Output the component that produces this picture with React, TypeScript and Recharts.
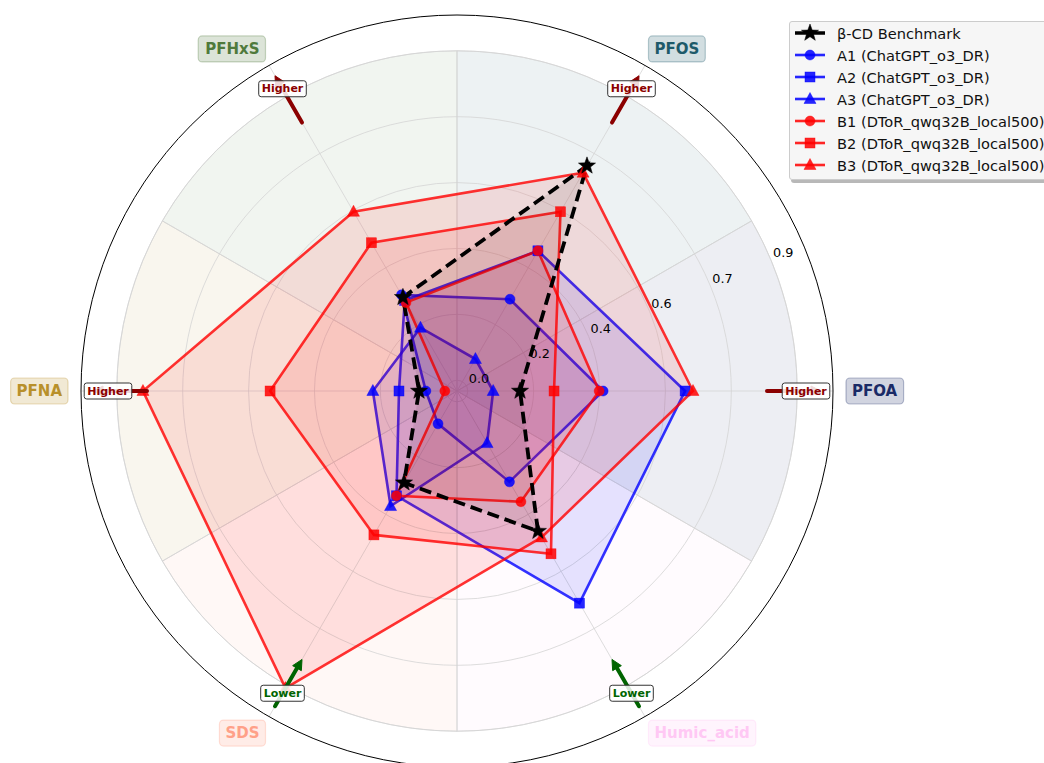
import React from 'react';
import {
  RadarChart,
  Radar,
  PolarGrid,
  PolarAngleAxis,
  PolarRadiusAxis,
  PieChart,
  Pie,
  Cell,
  Legend,
} from 'recharts';

// ---------- data ----------
const categories = ['PFOA', 'PFOS', 'PFHxS', 'PFNA', 'SDS', 'Humic_acid'];
const directions = ['Higher', 'Higher', 'Higher', 'Higher', 'Lower', 'Lower'];
const categoryColors = ['#1a2a66', '#1d5a6a', '#4f7a3c', '#b8902a', '#ffa088', '#ffc8f4'];

const benchmark = [0.146, 0.696, 0.272, 0.076, 0.266, 0.422];
const a1 = [0.378, 0.266, 0.28, 0.057, 0.076, 0.263];
const a2 = [0.607, 0.422, 0.262, 0.132, 0.308, 0.654];
const a3 = [0.071, 0.073, 0.174, 0.205, 0.341, 0.138];
const b1 = [0.367, 0.422, 0.255, 0.004, 0.308, 0.327];
const b2 = [0.241, 0.548, 0.448, 0.492, 0.434, 0.495];
const b3 = [0.629, 0.674, 0.548, 0.847, 0.928, 0.442];

const radialTicks = [0, 0.184, 0.368, 0.552, 0.736, 0.92];
const radialDomain: [number, number] = [-0.03, 1.02];

type Shape = 'circle' | 'square' | 'triangle' | 'star';
interface Series {
  key: string;
  name: string;
  values: number[];
  color: string;
  shape: Shape;
  dashed?: boolean;
}

const seriesList: Series[] = [
  { key: 'bench', name: 'β-CD Benchmark', values: benchmark, color: '#000000', shape: 'star', dashed: true },
  { key: 'A1', name: 'A1 (ChatGPT_o3_DR)', values: a1, color: '#0000ff', shape: 'circle' },
  { key: 'A2', name: 'A2 (ChatGPT_o3_DR)', values: a2, color: '#0000ff', shape: 'square' },
  { key: 'A3', name: 'A3 (ChatGPT_o3_DR)', values: a3, color: '#0000ff', shape: 'triangle' },
  { key: 'B1', name: 'B1 (DToR_qwq32B_local500)', values: b1, color: '#ff0000', shape: 'circle' },
  { key: 'B2', name: 'B2 (DToR_qwq32B_local500)', values: b2, color: '#ff0000', shape: 'square' },
  { key: 'B3', name: 'B3 (DToR_qwq32B_local500)', values: b3, color: '#ff0000', shape: 'triangle' },
];

const tableData = categories.map((c, i) => {
  const row: Record<string, any> = { axis: c };
  seriesList.forEach((s) => {
    row[s.key] = s.values[i];
  });
  return row;
});
const wedgeData = categories.map((c) => ({ name: c, value: 1 }));

// ---------- layout ----------
const W = 1044;
const H = 763;
const CX = 457;
const CY = 391;
const OUTER_R = 376;
// angle ranges for the series layer and the label layer
const SERIES_START = -60;
const SERIES_END = 300;
const LABEL_START = 60;
const LABEL_END = 420;
const FONT = 'DejaVu Sans, sans-serif';
const wedgeR =
  (OUTER_R * (radialTicks[radialTicks.length - 1] - radialDomain[0])) /
  (radialDomain[1] - radialDomain[0]);

const hexToRgba = (hex: string, a: number) => {
  const h = hex.replace('#', '');
  const r = parseInt(h.slice(0, 2), 16);
  const g = parseInt(h.slice(2, 4), 16);
  const b = parseInt(h.slice(4, 6), 16);
  return `rgba(${r},${g},${b},${a})`;
};

// approximate bold DejaVu widths (em)
const boldW: Record<string, number> = {
  P: 0.733, F: 0.683, O: 0.85, A: 0.774, S: 0.72, H: 0.837, x: 0.712, N: 0.837,
  D: 0.83, u: 0.712, m: 1.042, i: 0.343, c: 0.593, _: 0.5, a: 0.675, d: 0.716,
  L: 0.637, o: 0.687, w: 0.924, e: 0.678, r: 0.493, g: 0.716, h: 0.712,
};
const textWidth = (t: string, size: number) =>
  t.split('').reduce((s, ch) => s + (boldW[ch] ?? 0.7), 0) * size;

function MarkerShape({ shape, x, y, color, scale = 1 }: { shape: Shape; x: number; y: number; color: string; scale?: number }) {
  const fill = color === '#000000' ? '#000' : hexToRgba(color, 0.85);
  if (shape === 'circle') return <circle cx={x} cy={y} r={5 * scale} fill={fill} stroke={fill} strokeWidth={0.5} />;
  if (shape === 'square') {
    const s = 5 * scale;
    return <rect x={x - s} y={y - s} width={2 * s} height={2 * s} fill={fill} stroke={fill} strokeWidth={0.5} />;
  }
  if (shape === 'triangle') {
    const pts = [
      [x, y - 6.5 * scale],
      [x + 6 * scale, y + 4.5 * scale],
      [x - 6 * scale, y + 4.5 * scale],
    ];
    return <polygon points={pts.map((p) => p.join(',')).join(' ')} fill={fill} stroke={fill} strokeWidth={0.5} />;
  }
  const pts: string[] = [];
  for (let k = 0; k < 10; k++) {
    const rr = (k % 2 === 0 ? 9 : 3.7) * scale;
    const a = -Math.PI / 2 + (k * Math.PI) / 5;
    pts.push(`${x + rr * Math.cos(a)},${y + rr * Math.sin(a)}`);
  }
  return <polygon points={pts.join(' ')} fill="#000" stroke="#000" strokeWidth={0.5} />;
}

const makeDot = (s: Series) => (props: any) => {
  const { cx, cy, index } = props;
  return (
    <g key={`${s.key}-dot-${index}`}>
      <MarkerShape shape={s.shape} x={cx} y={cy} color={s.color} />
    </g>
  );
};

const RadiusTick = (props: any) => {
  const { x, y, payload } = props;
  return (
    <text
      x={x + 12}
      y={y - 8}
      textAnchor="middle"
      dominantBaseline="central"
      fontSize={12.8}
      fontFamily={FONT}
      fill="#000"
    >
      {Number(payload.value).toFixed(1)}
    </text>
  );
};

const AngleTick = (props: any) => {
  const { payload } = props;
  const idx = categories.indexOf(payload.value);
  if (idx < 0) return <g />;
  const ang = (payload.coordinate * Math.PI) / 180;
  const ux = Math.cos(ang);
  const uy = -Math.sin(ang);
  const pt = (r: number) => [CX + ux * r, CY + uy * r];
  const dir = directions[idx];
  const higher = dir === 'Higher';
  const arrowColor = higher ? '#8b0000' : '#006400';
  const tipR = higher ? 364 : 310;
  const tailR = higher ? 310 : 364;
  const sgn = higher ? 1 : -1;
  const [tx, ty] = pt(tailR);
  const [sx, sy] = pt(tipR - sgn * 7);
  const [hx, hy] = pt(tipR);
  const [bx, by] = pt(tipR - sgn * 10);
  const px = -uy;
  const py = ux;
  const head = [
    [hx, hy],
    [bx + px * 5, by + py * 5],
    [bx - px * 5, by - py * 5],
  ];
  const [lx, ly] = pt(349);
  const smallW = textWidth(dir, 11) + 6;

  const label = categories[idx];
  const col = categoryColors[idx];
  const [ax, ay] = pt(395);
  const tw = textWidth(label, 15);
  const pad = 6;
  let boxX: number;
  let anchor: 'start' | 'end' | 'middle';
  if (ux > 0.01) {
    anchor = 'start';
    boxX = ax - pad;
  } else if (ux < -0.01) {
    anchor = 'end';
    boxX = ax - tw - pad;
  } else {
    anchor = 'middle';
    boxX = ax - tw / 2 - pad;
  }
  return (
    <g>
      <line x1={tx} y1={ty} x2={sx} y2={sy} stroke={arrowColor} strokeWidth={4} strokeLinecap="round" />
      <polygon points={head.map((p) => p.join(',')).join(' ')} fill={arrowColor} stroke={arrowColor} strokeWidth={1} strokeLinejoin="round" />
      <rect x={lx - smallW / 2} y={ly - 8} width={smallW} height={16} rx={2.5} fill="#ffffff" fillOpacity={0.85} stroke="#333" strokeWidth={1} />
      <text x={lx} y={ly} textAnchor="middle" dominantBaseline="central" fontSize={11} fontWeight="bold" fontFamily={FONT} fill={arrowColor}>
        {dir}
      </text>
      <rect x={boxX} y={ay - 13} width={tw + 2 * pad} height={26} rx={4} fill={hexToRgba(col, 0.2)} stroke={hexToRgba(col, 0.3)} strokeWidth={1.2} />
      <text x={ax} y={ay} textAnchor={anchor} dominantBaseline="central" fontSize={15} fontWeight="bold" fontFamily={FONT} fill={col}>
        {label}
      </text>
    </g>
  );
};

const LegendContent = () => (
  <div
    style={{
      background: 'rgba(245,245,245,0.95)',
      border: '1px solid #cccccc',
      borderRadius: 3,
      boxShadow: '2px 3px 0 rgba(0,0,0,0.28)',
      padding: '0 10px 3px 5px',
      fontFamily: FONT,
      fontSize: 14.6,
      whiteSpace: 'nowrap',
      color: '#111',
    }}
  >
    {seriesList.map((s) => (
      <div key={s.key} style={{ display: 'flex', alignItems: 'center', height: 22 }}>
        <svg width={42} height={22} style={{ display: 'block', flex: 'none' }}>
          <line
            x1={0}
            x2={30}
            y1={11}
            y2={11}
            stroke={s.dashed ? '#000' : hexToRgba(s.color, 0.85)}
            strokeWidth={s.dashed ? 3.5 : 2.6}
            strokeDasharray={s.dashed ? '12 6' : undefined}
          />
          <MarkerShape shape={s.shape} x={15} y={11} color={s.color} />
        </svg>
        <span>{s.name}</span>
      </div>
    ))}
  </div>
);

const drawOrder = [...seriesList.slice(1), seriesList[0]];

export default function App() {
  const layer: React.CSSProperties = { position: 'absolute', left: 0, top: 0 };
  return (
    <div style={{ position: 'absolute', left: 0, top: 0, width: W, height: H, overflow: 'hidden', background: '#fff' }}>
      <div style={layer}>
        <PieChart width={W} height={H} margin={{ top: 0, right: 0, bottom: 0, left: 0 }}>
          <Pie
            data={wedgeData}
            dataKey="value"
            nameKey="name"
            cx={CX}
            cy={CY}
            innerRadius={0}
            outerRadius={wedgeR}
            startAngle={-30}
            endAngle={330}
            stroke="#d6d6d6"
            strokeWidth={0.8}
            isAnimationActive={false}
            label={false}
            labelLine={false}
          >
            {wedgeData.map((w, i) => (
              <Cell key={w.name} fill={categoryColors[i]} fillOpacity={0.08} />
            ))}
          </Pie>
        </PieChart>
      </div>
      <div style={layer}>
        <RadarChart
          width={W}
          height={H}
          data={tableData}
          cx={CX}
          cy={CY}
          innerRadius={0}
          outerRadius={OUTER_R}
          startAngle={SERIES_START}
          endAngle={SERIES_END}
          margin={{ top: 0, right: 0, bottom: 0, left: 0 }}
        >
          <PolarGrid gridType="circle" stroke="#d4d4d4" strokeWidth={0.8} />
          <PolarAngleAxis
            dataKey="axis"
            tick={false}
            tickLine={false}
            axisLine={{ stroke: '#000', strokeWidth: 1 }}
            axisLineType="circle"
          />
          <PolarRadiusAxis
            angle={22.5}
            type="number"
            domain={radialDomain}
            ticks={radialTicks}
            tickCount={6}
            axisLine={false}
            tickLine={false}
            tick={RadiusTick}
          />
          {drawOrder.map((s) => (
            <Radar
              key={s.key}
              name={s.name}
              dataKey={s.key}
              stroke={s.dashed ? '#000' : hexToRgba(s.color, 0.8)}
              strokeWidth={s.dashed ? 3.8 : 2.6}
              strokeDasharray={s.dashed ? '12 6' : undefined}
              fill={s.color}
              fillOpacity={s.dashed ? 0.07 : 0.1}
              dot={makeDot(s)}
              isAnimationActive={false}
            />
          ))}
          <Legend
            content={LegendContent}
            wrapperStyle={{ position: 'absolute', left: 789, top: 21, width: 'auto', height: 'auto' }}
          />
        </RadarChart>
      </div>
      <div style={layer}>
        <RadarChart
          width={W}
          height={H}
          data={tableData}
          cx={CX}
          cy={CY}
          innerRadius={0}
          outerRadius={OUTER_R}
          startAngle={LABEL_START}
          endAngle={LABEL_END}
          margin={{ top: 0, right: 0, bottom: 0, left: 0 }}
        >
          <PolarAngleAxis dataKey="axis" tick={AngleTick} tickLine={false} axisLine={false} />
          <PolarRadiusAxis type="number" domain={radialDomain} tick={false} axisLine={false} />
          <Radar dataKey="bench" stroke="none" fill="none" dot={false} legendType="none" isAnimationActive={false} />
        </RadarChart>
      </div>
    </div>
  );
}
